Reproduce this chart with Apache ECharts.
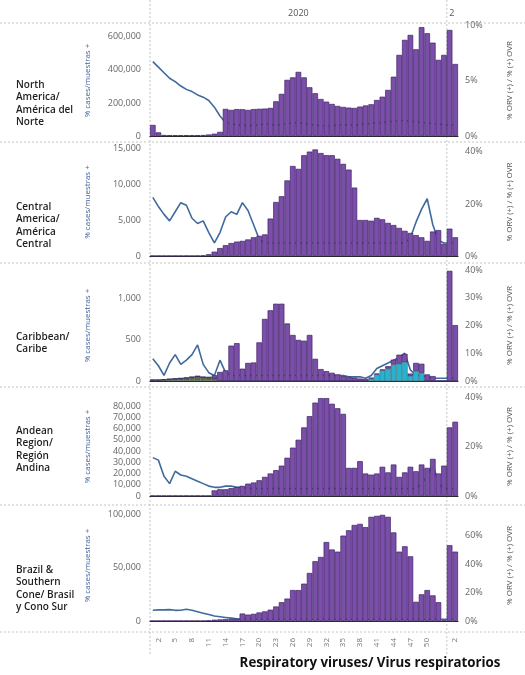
<!DOCTYPE html>
<html>
<head>
<meta charset="utf-8">
<script src="https://cdn.jsdelivr.net/npm/echarts@6/dist/echarts.min.js"></script>
<style>
  html, body { margin: 0; padding: 0; background: #ffffff; }
  #chart { width: 525px; height: 675px; }
</style>
</head>
<body>
<div id="chart"></div>
<script>
// Epidemiological weeks: 2020 weeks 1-53, then 2021 weeks 1-2
const weekLabels = ['1','2','3','4','5','6','7','8','9','10','11','12','13','14','15','16','17','18','19','20',
  '21','22','23','24','25','26','27','28','29','30','31','32','33','34','35','36','37','38','39','40',
  '41','42','43','44','45','46','47','48','49','50','51','52','53','1','2'];
const tickLabels2020 = ['2','5','8','11','14','17','20','23','26','29','32','35','38','41','44','47','50'];
const tickLabels2021 = ['2'];
const yearLabels = ['2020', '2'];

// North America
const northAmericaCases = [67000,22000,6000,5000,5000,5000,5000,5000,5000,6000,9000,14000,25000,
  164000,158000,163000,162000,158000,163000,165000,166000,170000,210000,
  255000,340000,355000,388000,355000,295000,259000,224000,208000,194000,182000,176000,172000,170000,178000,185000,
  192000,218000,238000,279000,359000,491000,582000,612000,525000,659000,622000,565000,461000,491000,
  642000,436000];
const northAmericaPct = [6.7,6.2,5.7,5.2,4.9,4.5,4.2,4.0,3.7,3.5,3.2,2.6,1.8,
  1.2,1.1,1.0,1.0,0.9,1.0,1.0,1.1,1.0,1.0,
  1.0,1.1,1.2,1.2,1.1,1.0,1.0,0.9,0.9,0.9,1.0,1.0,1.0,1.0,1.0,1.1,
  1.1,1.2,1.2,1.3,1.3,1.4,1.4,1.3,1.3,1.2,1.2,1.1,1.1,1.0,
  1.0,1.0];

// Central America
const centralAmericaCases = [30,30,30,30,30,30,30,30,30,80,250,600,1100,
  1500,1800,2000,2100,2300,2600,2800,3000,5200,7500,
  8300,10500,12500,12100,14000,14500,14800,14300,14000,14000,13500,12800,12000,9500,5000,5000,
  4900,5300,5100,4600,4300,3900,3500,3200,2900,2600,2100,3400,3600,1700,
  3800,2600];
const centralAmericaPct = [22.5,19,16,13.5,17,20.5,19.5,14.5,12.5,13.5,9,5,9,
  15,17,16,20.5,17.5,12,6.5,5,5,5,
  5,5,5,5,5,5,5,5,5,5,5,5,5,5,5,5,
  5,5,5,5,5,5,5,7,13,18,22,12,6,5,
  5,5];

// Caribbean
const caribbeanCases = [5,5,5,5,5,5,5,5,5,5,10,40,110,
  130,430,460,150,220,225,470,755,860,940,
  940,700,560,500,490,560,270,145,120,100,80,60,50,40,30,25,
  10,10,10,30,60,110,100,30,100,110,80,60,0,0,
  1340,680];
const caribbeanOther = [10,10,15,20,25,30,35,45,55,45,40,30,0,
  0,0,0,0,0,0,0,0,0,0,
  0,0,0,0,0,0,0,0,0,0,0,0,0,0,0,0,
  0,0,0,0,0,0,0,0,0,0,0,0,0,0,
  0,0];
const caribbeanRsv = [0,0,0,0,0,0,0,0,0,0,0,0,0,
  0,0,0,0,0,0,0,0,0,0,
  0,0,0,0,0,0,0,0,0,0,0,0,0,0,0,0,
  30,80,130,150,200,210,230,60,120,100,0,0,0,0,
  0,0];
const caribbeanPct = [8,5.5,2,6.5,9.5,6,7.5,9.5,13,6,3,2,7.5,
  3,2,2,2,2,2,2,2,2,2,
  2,2,2,2,2,2,2,2,2,2,2,2,1.5,1.5,1.5,1,
  2,4.5,5.5,6.5,7.5,8.5,10,4,2,2,1.5,1,1,1,
  1,1];

// Andean Region
const andeanCases = [300,300,300,300,300,300,300,300,300,300,300,5000,6000,
  6000,7000,8000,9000,11000,12000,14000,17000,20000,23000,
  27000,34000,43000,50000,61000,71000,83000,87000,87000,82000,78000,73000,25000,25000,31000,20000,
  19000,20000,26000,21000,28000,17000,21000,26000,22000,28000,25000,33000,20000,27000,
  61000,66000];
const andeanPct = [15.5,14.5,8,5,10,8.5,8,7,6,5,4,3.5,3.5,
  4,4,3.5,3.5,3,3,3,3,3,3,
  3,3,3,3,3,3,3,3,3,3,3,3,3,3,3,3,
  3,3,3,3,3,3,3,3,3,5,8,13,5,3,
  3,3];

// Brazil & Southern Cone
const brazilCases = [200,200,200,200,200,200,200,200,200,200,600,1200,1500,
  1800,2000,2200,7000,6000,6700,8000,9000,10600,13600,
  17600,21000,29000,29000,35000,45000,56000,60000,74000,67000,65000,80000,85000,90000,91000,88000,
  97600,98500,99400,97600,83000,65000,70000,60600,18000,25000,29000,24000,17600,600,
  71000,65000];
const brazilPct = [7.5,7.8,7.8,8,7.5,7.6,8.2,7.5,6.5,5.5,4.5,3.5,3,
  2.5,2,1.5,1.2,1.2,1.2,1.2,1.2,1.2,1.2,
  1.2,1.2,1.2,1.2,1.2,1.2,1.2,1.2,1.2,1.2,1.2,1.2,1.2,1.2,1.2,1.2,
  1.2,1.2,1.2,1.2,1.2,1.2,1.2,1.2,1.2,1.2,1.2,1.2,1.2,1.2,
  1.2,1.2];

const regionNames = [
  'North\nAmerica/\nAmérica del\nNorte',
  'Central\nAmerica/\nAmérica\nCentral',
  'Caribbean/\nCaribe',
  'Andean\nRegion/\nRegión\nAndina',
  'Brazil &\nSouthern\nCone/ Brasil\ny Cono Sur'
];
const leftAxisName = '% cases/muestras +';
const rightAxisName = '% ORV (+) / % (+) OVR';
const footerTitle = 'Respiratory viruses/ Virus respiratorios';

// Data per panel
const panels = [
  { cases: northAmericaCases, pct: northAmericaPct, lower: [] },
  { cases: centralAmericaCases, pct: centralAmericaPct, lower: [] },
  { cases: caribbeanCases, pct: caribbeanPct, lower: [caribbeanOther, caribbeanRsv] },
  { cases: andeanCases, pct: andeanPct, lower: [] },
  { cases: brazilCases, pct: brazilPct, lower: [] }
];
const lowerColors = ['#5f6b3a', '#27b3cf'];

// Geometry of the five stacked panels
const PLOT_LEFT = 150, PLOT_RIGHT = 67, W = 525;
const layout = [
  { top: 25,  height: 111, leftMax: 672000, leftStep: 200000, rightMax: 10,   rightStep: 5,  labelY: 85 },
  { top: 148, height: 108, leftMax: 15000,  leftStep: 5000,   rightMax: 41.5, rightStep: 20, labelY: 207 },
  { top: 270, height: 111, leftMax: 1350,   leftStep: 500,    rightMax: 40,   rightStep: 10, labelY: 337 },
  { top: 397, height: 99,  leftMax: 88000,  leftStep: 10000,  rightMax: 40,   rightStep: 20, labelY: 431 },
  { top: 510, height: 111, leftMax: 104000, leftStep: 50000,  rightMax: 78,   rightStep: 20, labelY: 570 }
];
const separatorsY = [23, 142, 263, 387, 505, 632];

const FONT = '"Open Sans", "Noto Sans", sans-serif';
const BAR = '#7b4ea9';
const BAR_EDGE = '#3d2266';
const LINE = '#3f6a9b';

const withCommas = v => String(v).replace(/\B(?=(\d{3})+(?!\d))/g, ',');

const grids = layout.map(l => ({
  left: PLOT_LEFT, right: PLOT_RIGHT, top: l.top, height: l.height,
  containLabel: false, outerBoundsMode: 'none'
}));

const xAxes = layout.map((l, i) => ({
  type: 'category',
  gridIndex: i,
  data: weekLabels,
  boundaryGap: true,
  axisTick: { show: false },
  splitLine: { show: false },
  axisLine: { show: true, onZero: false, lineStyle: { color: '#2a2a2a', width: 1.2 } },
  axisLabel: i === layout.length - 1 ? {
    show: true,
    rotate: 90,
    margin: 17,
    fontSize: 8,
    color: '#777',
    fontFamily: FONT,
    interval: (index, value) => index < 53 ? tickLabels2020.includes(value) : tickLabels2021.includes(value)
  } : { show: false }
}));

const yAxes = [];
layout.forEach((l, i) => {
  yAxes.push({
    type: 'value', gridIndex: i, position: 'left',
    min: 0, max: l.leftMax, interval: l.leftStep,
    splitLine: { show: false }, axisLine: { show: false }, axisTick: { show: false },
    axisLabel: {
      fontSize: 9, color: '#666', margin: 9, fontFamily: FONT,
      showMaxLabel: l.leftMax % l.leftStep === 0,
      formatter: withCommas
    },
    name: leftAxisName, nameLocation: 'middle', nameGap: 58, nameRotate: 90,
    nameTextStyle: { fontSize: 8, color: '#3d5f9e', fontFamily: FONT }
  });
  yAxes.push({
    type: 'value', gridIndex: i, position: 'right',
    min: 0, max: l.rightMax, interval: l.rightStep,
    splitLine: { show: false }, axisLine: { show: false }, axisTick: { show: false },
    axisLabel: {
      fontSize: 9, color: '#666', margin: 7, fontFamily: FONT,
      showMaxLabel: l.rightMax % l.rightStep === 0,
      formatter: '{value}%'
    },
    name: rightAxisName, nameLocation: 'middle', nameGap: 48, nameRotate: 90,
    nameTextStyle: { fontSize: 8, color: '#555', fontFamily: FONT }
  });
});

const series = [];
panels.forEach((p, i) => {
  // positivity line sits underneath the bars
  series.push({
    type: 'line', xAxisIndex: i, yAxisIndex: 2 * i + 1,
    data: p.pct, symbol: 'none', z: 1,
    lineStyle: { color: LINE, width: 1.6 }
  });
  p.lower.forEach((arr, k) => {
    series.push({
      type: 'bar', xAxisIndex: i, yAxisIndex: 2 * i, stack: 'cases' + i,
      data: arr, barCategoryGap: '0%', z: 2,
      itemStyle: { color: lowerColors[k], borderColor: '#2c4a5a', borderWidth: 0.4 }
    });
  });
  series.push({
    type: 'bar', xAxisIndex: i, yAxisIndex: 2 * i, stack: 'cases' + i,
    data: p.cases, barCategoryGap: '0%', z: 2,
    itemStyle: { color: BAR, borderColor: BAR_EDGE, borderWidth: 0.7 }
  });
});

// Frame lines, headers and region labels
const plotW = W - PLOT_LEFT - PLOT_RIGHT;
const yearBreakX = PLOT_LEFT + plotW * 53 / weekLabels.length;
const dotted = { stroke: '#c4c4c4', lineWidth: 1, lineDash: [2, 2] };
const graphics = [];
separatorsY.forEach(y => graphics.push({
  type: 'line', silent: true, z: 0,
  shape: { x1: 0, y1: y, x2: W, y2: y }, style: dotted
}));
[PLOT_LEFT, yearBreakX].forEach(x => graphics.push({
  type: 'line', silent: true, z: 0,
  shape: { x1: x, y1: 0, x2: x, y2: 656 }, style: dotted
}));
graphics.push({
  type: 'text', x: (PLOT_LEFT + yearBreakX) / 2, y: 13,
  style: { text: yearLabels[0], fill: '#555', font: '9px ' + FONT, textAlign: 'center', textVerticalAlign: 'middle' }
});
graphics.push({
  type: 'text', x: yearBreakX + 5, y: 13,
  style: { text: yearLabels[1], fill: '#555', font: '9px ' + FONT, textAlign: 'center', textVerticalAlign: 'middle' }
});
layout.forEach((l, i) => graphics.push({
  type: 'text', x: 16, y: l.labelY - 6.5,
  style: {
    text: regionNames[i], fill: '#1f1f1f', font: '600 10px ' + FONT,
    lineHeight: 12.5, textAlign: 'left', textVerticalAlign: 'top'
  }
}));
graphics.push({
  type: 'text', x: 370, y: 663,
  style: { text: footerTitle, fill: '#111', font: 'bold 13.3px ' + FONT, textAlign: 'center', textVerticalAlign: 'middle' }
});

const chart = echarts.init(document.getElementById('chart'));
chart.setOption({
  animation: false,
  backgroundColor: '#ffffff',
  grid: grids,
  xAxis: xAxes,
  yAxis: yAxes,
  series: series,
  graphic: graphics
});
</script>
</body>
</html>
